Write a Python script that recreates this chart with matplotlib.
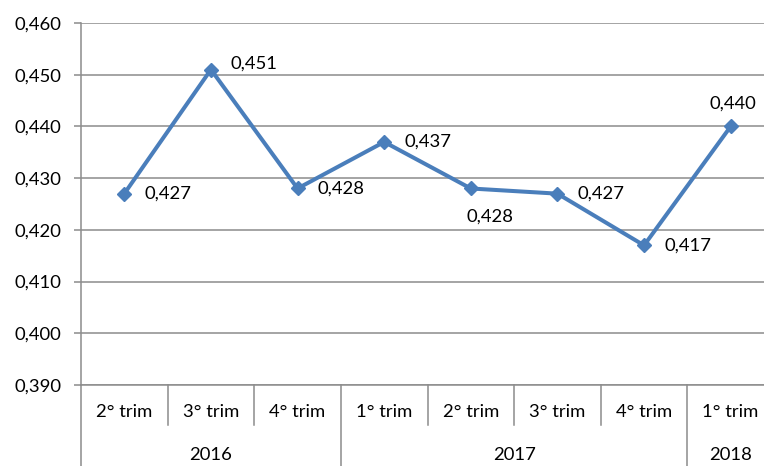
import matplotlib
matplotlib.use("Agg")
import matplotlib.pyplot as plt
from matplotlib import transforms

quarters = ["2° trim", "3° trim", "4° trim", "1° trim", "2° trim", "3° trim", "4° trim", "1° trim"]
years = ["2016", "2017", "2018"]
year_counts = [3, 4, 1]
values = [0.427, 0.451, 0.428, 0.437, 0.428, 0.427, 0.417, 0.440]
yticks = [0.390, 0.400, 0.410, 0.420, 0.430, 0.440, 0.450, 0.460]

# label placement (px offsets: dx, dy, ha)
label_pos = [(20, 0, "left"), (20, 6, "left"), (20, 0, "left"), (20, 0, "left"),
             (19, -28, "center"), (20, 0, "left"), (20, 0, "left"), (2, 23, "center")]

plt.rcParams['font.family'] = ['Lato', 'DejaVu Sans']
FS = 13.3
W, H = 764, 466
fig = plt.figure(figsize=(W/100, H/100), dpi=100)
left, right, top, bottom = 81, 774, 23, 385
ax = fig.add_axes([left/W, 1-bottom/H, (right-left)/W, (bottom-top)/H])

x = list(range(len(values)))
line_color = "#4A7EBB"
ax.plot(x, values, color=line_color, lw=2.9, marker="D", ms=7.5, mfc=line_color, mec=line_color, zorder=3, clip_on=False)

px = 72/100
for xi, v, (dx, dy, ha) in zip(x, values, label_pos):
    ax.annotate(f"{v:.3f}".replace(".", ","), (xi, v), xytext=(dx*px, dy*px), textcoords="offset points",
                ha=ha, va="center", fontsize=FS, color="black")

ax.set_xlim(-0.5, len(values)-0.5)
ax.set_ylim(0.390, 0.460)
ax.set_yticks(yticks)
ax.set_yticklabels([f"{t:.3f}".replace(".", ",") for t in yticks], fontsize=FS)
grid_color = "#8C8C8C"
ax.yaxis.grid(True, color=grid_color, lw=1.1)
ax.set_axisbelow(True)
for s in ["top", "right"]:
    ax.spines[s].set_visible(False)
ax.spines["left"].set_color(grid_color)
ax.spines["bottom"].set_color(grid_color)
ax.spines["left"].set_linewidth(1.1)
ax.spines["bottom"].set_linewidth(1.1)
ax.tick_params(axis="y", length=5, color=grid_color, pad=9, width=1.1)
ax.set_xticks([])

trans = transforms.blended_transform_factory(ax.transData, ax.transAxes)
axh = bottom - top
for xi, q in zip(x, quarters):
    ax.text(xi, -27/axh, q, transform=trans, ha="center", va="center", fontsize=FS)
pos = -0.5
year_bounds = [-0.5]
for c in year_counts:
    pos += c
    year_bounds.append(pos)
for b in [i - 0.5 for i in range(len(values)+1)]:
    if b in year_bounds:
        ax.plot([b, b], [0, -82/axh], transform=trans, color=grid_color, lw=1.1, clip_on=False)
    else:
        ax.plot([b, b], [0, -40/axh], transform=trans, color=grid_color, lw=1.1, clip_on=False)
for i, (yr, c) in enumerate(zip(years, year_counts)):
    center = (year_bounds[i] + year_bounds[i+1]) / 2
    ax.text(center, -70/axh, yr, transform=trans, ha="center", va="center", fontsize=FS)

fig.savefig("out.png", dpi=100)
